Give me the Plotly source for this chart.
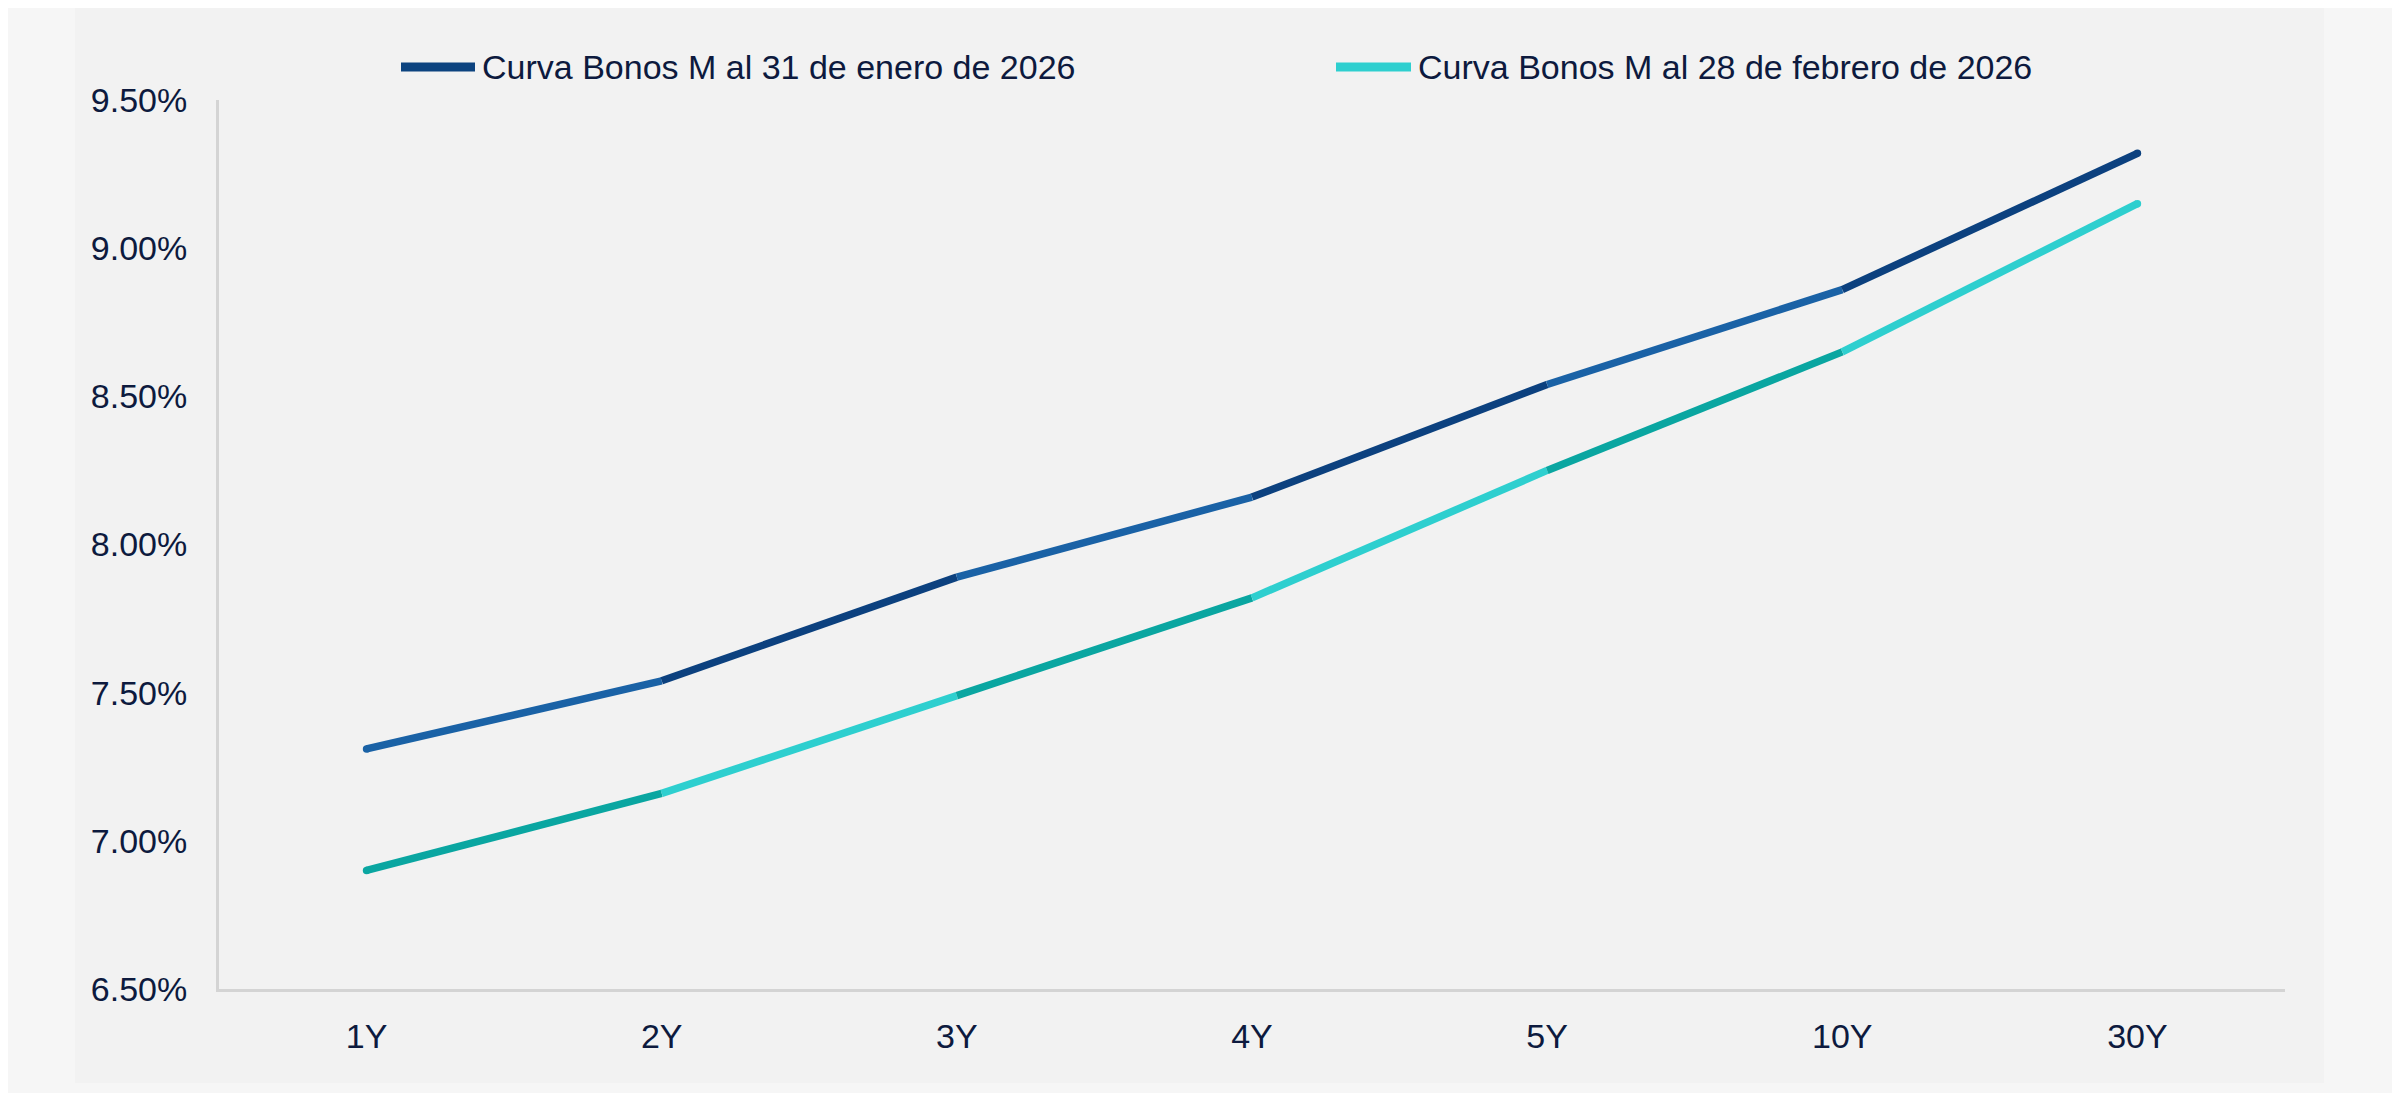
import plotly.graph_objects as go

# ---- data ----
tenors = ["1Y", "2Y", "3Y", "4Y", "5Y", "10Y", "30Y"]
curva_enero = [7.31, 7.54, 7.89, 8.16, 8.54, 8.86, 9.32]
curva_febrero = [6.90, 7.16, 7.49, 7.82, 8.25, 8.65, 9.15]
series_names = ["Curva Bonos M al 31 de enero de 2026",
                "Curva Bonos M al 28 de febrero de 2026"]
y_ticks = [6.5, 7.0, 7.5, 8.0, 8.5, 9.0, 9.5]
y_tick_labels = ["6.50%", "7.00%", "7.50%", "8.00%", "8.50%", "9.00%", "9.50%"]

# ---- styles ----
OFF = 8                      # default body margin of the html page
W, H = 2400 - OFF, 1093 - OFF
L, T = 219 - OFF, 100 - OFF
R = W - (2285 - OFF)
B = H - (989 - OFF)
PW, PH = W - L - R, H - T - B
FONT = "Liberation Sans, Arial, sans-serif"
FS = 34
TXT = "#0d1a3e"
seg_colors = [
    ["#1a62a6", "#0c417f"],   # enero: light blue / navy alternating
    ["#0aa6a1", "#2ecfcf"],   # febrero: teal / light cyan alternating
]
legend_colors = ["#0c437f", "#2ecfcf"]
LW = 7.5


def px_x(px):
    return (px - OFF - L) / PW


def px_y(py):
    return (H - B - (py - OFF)) / PH


fig = go.Figure()
for s, vals in enumerate([curva_enero, curva_febrero]):
    n = len(tenors) - 1
    for i in range(n):
        fig.add_trace(go.Scatter(
            x=tenors[i:i + 2], y=vals[i:i + 2], mode="lines",
            line=dict(color=seg_colors[s][i % 2], width=LW),
            showlegend=False, name=series_names[s],
            hovertemplate="%{x}: %{y:.2f}%<extra>" + series_names[s] + "</extra>",
        ))
    # rounded line ends
    fig.add_trace(go.Scatter(
        x=[tenors[0], tenors[-1]], y=[vals[0], vals[-1]], mode="markers",
        marker=dict(size=LW, color=[seg_colors[s][0], seg_colors[s][(n - 1) % 2]],
                    line=dict(width=0)),
        showlegend=False, hoverinfo="skip",
    ))

shapes = [
    dict(type="rect", xref="paper", yref="paper",
         x0=px_x(75), x1=px_x(2324), y0=px_y(1083), y1=px_y(-20),
         fillcolor="#f2f2f2", line=dict(width=0), layer="below"),
]
annotations = []
legend_items = [(401, 475, 480), (1336, 1411, 1416)]
for k, (lx0, lx1, tx) in enumerate(legend_items):
    shapes.append(dict(type="line", xref="paper", yref="paper",
                       x0=px_x(lx0), x1=px_x(lx1), y0=px_y(67), y1=px_y(67),
                       line=dict(color=legend_colors[k], width=9)))
    annotations.append(dict(xref="paper", yref="paper", x=px_x(tx), y=px_y(67),
                            xanchor="left", yanchor="middle", showarrow=False,
                            text=series_names[k],
                            font=dict(family=FONT, size=FS, color=TXT)))

fig.update_layout(
    width=W, height=H,
    margin=dict(l=L, r=R, t=T, b=B, pad=0),
    paper_bgcolor="#f6f6f6",
    plot_bgcolor="rgba(0,0,0,0)",
    font=dict(family=FONT, size=FS, color=TXT),
    showlegend=False,
    shapes=shapes,
    annotations=annotations,
    xaxis=dict(
        type="category", categoryorder="array", categoryarray=tenors,
        range=[-0.5, len(tenors) - 0.5],
        showgrid=False, zeroline=False,
        showline=True, linecolor="#d4d4d4", linewidth=3,
        ticks="", ticklabelstandoff=15,
        tickfont=dict(family=FONT, size=FS, color=TXT),
        fixedrange=True,
    ),
    yaxis=dict(
        range=[6.5, 9.5], tickvals=y_ticks, ticktext=y_tick_labels,
        showgrid=False, zeroline=False,
        showline=True, linecolor="#d4d4d4", linewidth=3,
        ticks="", ticklabelstandoff=22,
        tickfont=dict(family=FONT, size=FS, color=TXT),
        fixedrange=True,
    ),
)

fig.write_html("out.html")
